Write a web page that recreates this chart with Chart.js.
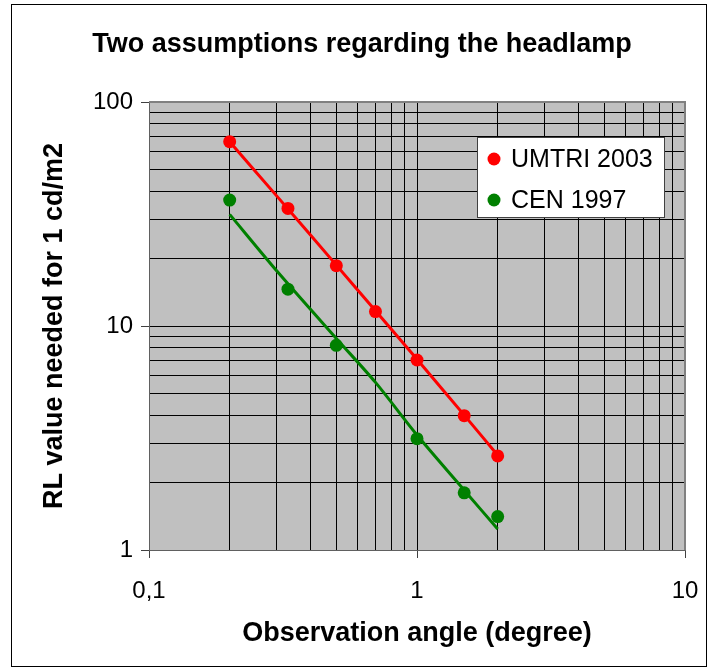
<!DOCTYPE html>
<html>
<head>
<meta charset="utf-8">
<title>Two assumptions regarding the headlamp</title>
<script src="https://cdn.jsdelivr.net/npm/chart.js@4.4.1/dist/chart.umd.min.js"></script>
<style>
  html, body { margin: 0; padding: 0; background: #fff; }
  #wrap { width: 708px; height: 668px; }
</style>
</head>
<body>
<div id="wrap"><canvas id="chart" width="708" height="668"></canvas></div>
<script>
// measured points
const umtriAngles = [0.2, 0.33, 0.5, 0.7, 1, 1.5, 2];
const umtriRL = [66.5, 33.5, 18.6, 11.6, 7.05, 3.98, 2.63];
const cenAngles = [0.2, 0.33, 0.5, 1, 1.5, 2];
const cenRL = [36.5, 14.6, 8.2, 3.14, 1.8, 1.41];

// trend lines
const fitAngles = [0.2, 0.3, 0.5, 0.7, 1, 1.5, 2];
const umtriFit = [66.5, 38, 18.7, 11.7, 7.1, 4.0, 2.65];
const cenFit = [31.5, 17.6, 8.8, 5.6, 3.26, 1.85, 1.24];

// axes
const xTickValues = [0.1, 0.2, 0.3, 0.4, 0.5, 0.6, 0.7, 0.8, 0.9, 1, 2, 3, 4, 5, 6, 7, 8, 9, 10];
const xMajorValues = [0.1, 1, 10];
const xMajorLabels = ["0,1", "1", "10"];
const yTickValues = [1, 2, 3, 4, 5, 6, 7, 8, 9, 10, 20, 30, 40, 50, 60, 70, 80, 90, 100];
const yMajorValues = [1, 10, 100];
const yMajorLabels = ["1", "10", "100"];

const FONT = "'Liberation Sans', Arial, Helvetica, sans-serif";
const RED = "#FF0000";
const GREEN = "#008000";

const pts = (xs, ys) => xs.map((x, i) => ({ x, y: ys[i] }));

const plotFrame = {
  id: "plotFrame",
  beforeDraw(chart) {
    const { ctx, chartArea: a } = chart;
    ctx.save();
    ctx.fillStyle = "#C0C0C0";
    ctx.fillRect(a.left, a.top, a.right - a.left, a.bottom - a.top);
    // outer frame
    ctx.strokeStyle = "#000";
    ctx.lineWidth = 1;
    ctx.strokeRect(11.5, 4.5, 695, 662);
    ctx.restore();
  },
  beforeDatasetsDraw(chart) {
    const { ctx, chartArea: a } = chart;
    ctx.save();
    ctx.strokeStyle = "#808080";
    ctx.lineWidth = 2;
    ctx.beginPath();
    ctx.moveTo(a.left, a.top);
    ctx.lineTo(a.right, a.top);
    ctx.lineTo(a.right, a.bottom);
    ctx.stroke();
    ctx.restore();
  },
};

const boxLegend = {
  id: "boxLegend",
  afterDatasetsDraw(chart) {
    const { ctx } = chart;
    const items = chart.data.datasets.filter((d) => d.inLegend);
    ctx.save();
    ctx.fillStyle = "#fff";
    ctx.fillRect(477, 137, 187, 80);
    ctx.strokeStyle = "#404040";
    ctx.lineWidth = 1;
    ctx.strokeRect(477.5, 137.5, 187, 80);
    ctx.font = "25px " + FONT;
    ctx.textBaseline = "middle";
    items.forEach((d, i) => {
      const cy = 159 + i * 41;
      ctx.fillStyle = d.backgroundColor;
      ctx.beginPath();
      ctx.arc(494, cy, 6.5, 0, Math.PI * 2);
      ctx.fill();
      ctx.fillStyle = "#000";
      ctx.fillText(d.label, 511, cy + 1);
    });
    ctx.restore();
  },
};

function tickLabel(values, labels) {
  return (v) => {
    const i = values.indexOf(v);
    return i >= 0 ? labels[i] : "";
  };
}

new Chart(document.getElementById("chart"), {
  type: "scatter",
  data: {
    datasets: [
      { type: "line", label: "UMTRI fit", data: pts(fitAngles, umtriFit), borderColor: RED, borderWidth: 3, pointRadius: 0, tension: 0.3, fill: false },
      { type: "line", label: "CEN fit", data: pts(fitAngles, cenFit), borderColor: GREEN, borderWidth: 3, pointRadius: 0, tension: 0.3, fill: false },
      { label: "UMTRI 2003", data: pts(umtriAngles, umtriRL), backgroundColor: RED, borderColor: RED, pointRadius: 6.5, borderWidth: 0, inLegend: true },
      { label: "CEN 1997", data: pts(cenAngles, cenRL), backgroundColor: GREEN, borderColor: GREEN, pointRadius: 6.5, borderWidth: 0, inLegend: true },
    ],
  },
  options: {
    responsive: false,
    animation: false,
    layout: { padding: { left: 16, right: 0, top: 8, bottom: 0 } },
    plugins: {
      legend: { display: false },
      tooltip: { enabled: false },
      title: {
        display: true,
        text: "Two assumptions regarding the headlamp",
        color: "#000",
        font: { family: FONT, size: 27, weight: "bold", lineHeight: 1.2 },
        padding: { top: 20.8, bottom: 40.8 },
      },
    },
    scales: {
      x: {
        type: "logarithmic",
        min: 0.1, max: 10,
        afterBuildTicks: (s) => { s.ticks = xTickValues.map((value) => ({ value })); },
        afterFit: (s) => { s.height = 118; s.paddingLeft = 0; s.paddingRight = 23; },
        ticks: {
          autoSkip: false, maxRotation: 0, padding: 18.6, color: "#000",
          font: { family: FONT, size: 24 },
          callback: tickLabel(xMajorValues, xMajorLabels),
        },
        grid: {
          color: "#000", lineWidth: 1, tickLength: 8,
          tickColor: (c) => (c.tick && xMajorValues.includes(c.tick.value) ? "#404040" : "rgba(0,0,0,0)"),
        },
        border: { color: "#606060", width: 1 },
        title: {
          display: true, text: "Observation angle (degree)", color: "#000",
          font: { family: FONT, size: 27, weight: "bold", lineHeight: 1.2 },
          padding: { top: 0, bottom: 17.8 },
        },
      },
      y: {
        type: "logarithmic",
        min: 1, max: 100,
        afterBuildTicks: (s) => { s.ticks = yTickValues.map((value) => ({ value })); },
        afterFit: (s) => { s.width = 133; },
        ticks: {
          autoSkip: false, padding: 8, color: "#000",
          font: { family: FONT, size: 24 },
          callback: tickLabel(yMajorValues, yMajorLabels),
        },
        grid: {
          color: "#000", lineWidth: 1, tickLength: 8,
          tickColor: (c) => (c.tick && yMajorValues.includes(c.tick.value) ? "#404040" : "rgba(0,0,0,0)"),
        },
        border: { color: "#606060", width: 1 },
        title: {
          display: true, text: "RL value needed for 1 cd/m2", color: "#000",
          font: { family: FONT, size: 27, weight: "bold", lineHeight: 1.2 },
          padding: { top: 22.8, bottom: 0 },
        },
      },
    },
  },
  plugins: [plotFrame, boxLegend],
});
</script>
</body>
</html>
